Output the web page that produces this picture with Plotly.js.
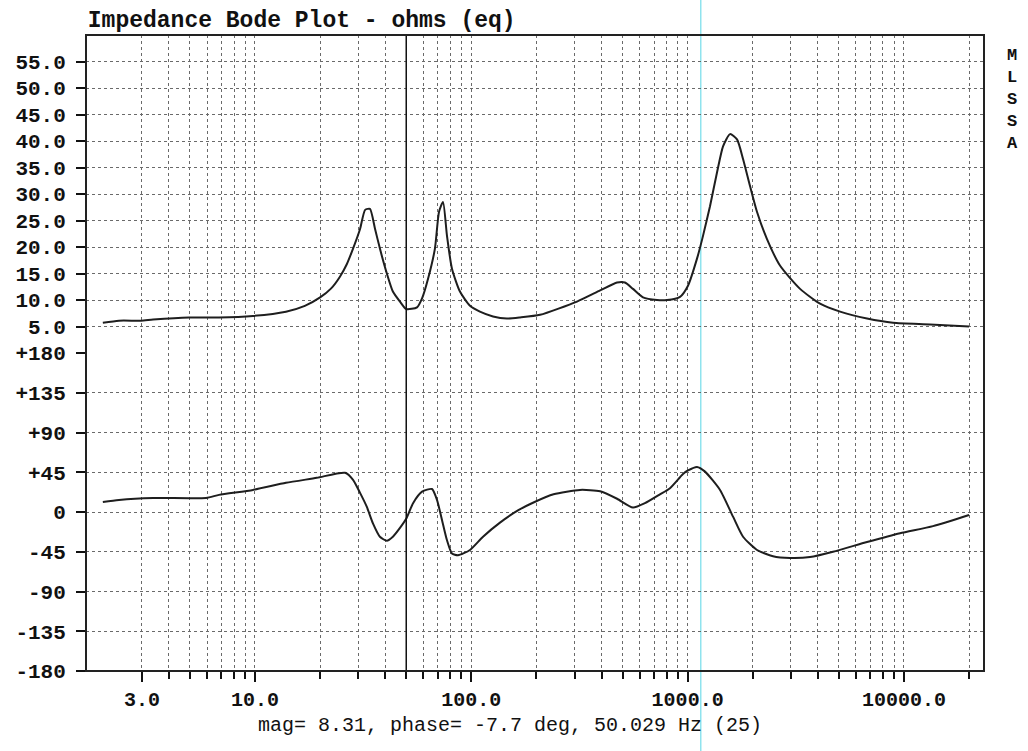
<!DOCTYPE html>
<html>
<head>
<meta charset="utf-8">
<script src="https://cdn.plot.ly/plotly-3.0.1.min.js"></script>
<style>html,body{margin:0;padding:0;background:#fff;}#chart{width:1028px;height:751px;}</style>
</head>
<body>
<div id="chart"></div>
<script>
// ---- Data ----
const magFreq = [1.98, 2.35, 2.97, 3.38, 4.95, 6.82, 9.79, 13.9, 17.0, 20.0, 22.5, 24.7, 26.6, 28.4, 30.6, 32.3, 34.0, 35.9, 37.8, 40.7, 43.4, 46.8, 50.0,
  56.1, 59.2, 63.1, 67.9, 70.9, 74.0, 77.2, 81.4, 88.6, 98.6, 109.6, 126, 146, 168, 208, 308, 394, 472, 513, 559, 622, 722, 803, 922,
  1004, 1105, 1178, 1269, 1368, 1458, 1571, 1692, 1804, 1943, 2094, 2328, 2673, 3310, 4094, 5068, 6750, 8908, 13210, 20000];
const magOhms = [5.7, 6.1, 6.1, 6.3, 6.7, 6.7, 7.0, 7.8, 8.9, 10.5, 12.2, 14.4, 16.8, 19.7, 23.4, 27.0, 27.2, 23.4, 19.7, 15.0, 11.6, 9.7, 8.31,
  8.6, 10.3, 14.0, 19.7, 26.6, 28.5, 22.1, 15.9, 11.6, 8.9, 7.8, 6.9, 6.5, 6.7, 7.2, 9.7, 11.8, 13.3, 13.3, 12.1, 10.5, 10.0, 10.0, 10.6,
  12.7, 17.8, 22.1, 27.7, 34.1, 39.0, 41.3, 40.3, 36.6, 31.5, 26.6, 21.5, 16.5, 12.1, 9.3, 7.8, 6.5, 5.7, 5.4, 5.0];

const phaseFreq = [1.98, 2.35, 3.38, 5.94, 6.82, 9.79, 13.9, 19.3, 26.1, 28.4, 30.6, 32.9, 35.1, 37.8, 40.7, 43.4, 46.8, 50.0,
  53.8, 59.2, 65.8, 69.4, 73.2, 77.2, 81.4, 86.8, 98.6, 113.3, 135.7, 165, 195, 240, 318, 394, 472, 559, 635, 745, 829, 952,
  1004, 1105, 1200, 1412, 1622, 1804, 2094, 2482, 2974, 3681, 4700, 6750, 9594, 13630, 20000];
const phaseDeg = [11.4, 13.7, 15.9, 15.9, 19.4, 25, 33, 38.7, 44.4, 36.4, 21.6, 5.7, -12.9, -28, -32.6, -28, -18, -7.7,
  10, 23, 26, 13.7, -9, -32, -47, -49, -43, -28, -12, 2, 11, 20, 25, 23.5, 15, 5, 10, 20, 27, 43,
  47, 51, 46, 25, -5.3, -28, -43, -50, -52, -51, -45, -34, -24, -16, -3.4];

const xTickVals = [3, 10, 100, 1000, 10000];
const xTickText = ['3.0', '10.0', '100.0', '1000.0', '10000.0'];
const xMinorVals = [4, 5, 6, 7, 8, 9, 20, 30, 40, 50, 60, 70, 80, 90, 200, 300, 400, 500, 600, 700, 800, 900,
  2000, 3000, 4000, 5000, 6000, 7000, 8000, 9000, 20000];
const magTickVals = [5, 10, 15, 20, 25, 30, 35, 40, 45, 50, 55];
const magTickText = ['5.0', '10.0', '15.0', '20.0', '25.0', '30.0', '35.0', '40.0', '45.0', '50.0', '55.0'];
const phaseTickVals = [-180, -135, -90, -45, 0, 45, 90, 135, 180];
const phaseTickText = ['-180', '-135', '-90', '-45', '0', '+45', '+90', '+135', '+180'];

const titleText = 'Impedance Bode Plot - ohms (eq)';
const footerText = 'mag= 8.31, phase= -7.7 deg, 50.029 Hz (25)';
const sideText = 'M<br>L<br>S<br>S<br>A';
const cursorFreq = 50.029;
const cyanFreq = 1150;

// ---- Chart ----
const curveLine = {color: '#1e1e1e', width: 2, shape: 'spline', smoothing: 0.6};
const traces = [
  {x: magFreq, y: magOhms, type: 'scatter', mode: 'lines', line: curveLine, xaxis: 'x', yaxis: 'y', hoverinfo: 'skip'},
  {x: phaseFreq, y: phaseDeg, type: 'scatter', mode: 'lines', line: curveLine, xaxis: 'x', yaxis: 'y2', hoverinfo: 'skip'}
];

const gridCol = '#6a6a6a';
const monoFam = 'Liberation Mono, DejaVu Sans Mono, monospace';
const yTickFont = {family: monoFam, size: 21, color: '#111', weight: 'bold'};
const xTickFont = {family: monoFam, size: 20, color: '#111', weight: 'bold'};

const layout = {
  width: 1028, height: 751,
  paper_bgcolor: '#ffffff', plot_bgcolor: '#ffffff',
  margin: {l: 86, r: 44, t: 35, b: 80},
  showlegend: false,
  title: {text: titleText, x: 0.002, xref: 'paper', xanchor: 'left', y: 0.975, yref: 'container', yanchor: 'middle',
          font: {family: monoFam, size: 23, color: '#111', weight: 'bold'}},
  xaxis: {
    type: 'log', range: [Math.log10(1.655), Math.log10(23450)], anchor: 'y2',
    tickmode: 'array', tickvals: xTickVals, ticktext: xTickText,
    ticks: 'outside', ticklen: 10, tickwidth: 2, tickcolor: '#111',
    showgrid: true, gridcolor: gridCol, griddash: 'dot', gridwidth: 1,
    minor: {tickmode: 'array', tickvals: xMinorVals, ticks: 'outside', ticklen: 7, tickwidth: 2, tickcolor: '#111',
            showgrid: true, gridcolor: gridCol, griddash: 'dot', gridwidth: 1},
    showline: false, zeroline: false, tickfont: xTickFont
  },
  yaxis: {
    domain: [0.5, 1], range: [0, 60], anchor: 'x',
    tickmode: 'array', tickvals: magTickVals, ticktext: magTickText,
    ticks: 'outside', ticklen: 9, tickwidth: 2, tickcolor: '#111', ticklabelstandoff: 6,
    showgrid: true, gridcolor: gridCol, griddash: 'dot', gridwidth: 1,
    showline: false, zeroline: false, tickfont: yTickFont
  },
  yaxis2: {
    domain: [0, 0.5], range: [-180, 180], anchor: 'x',
    tickmode: 'array', tickvals: phaseTickVals, ticktext: phaseTickText,
    ticks: 'outside', ticklen: 9, tickwidth: 2, tickcolor: '#111', ticklabelstandoff: 6,
    showgrid: true, gridcolor: gridCol, griddash: 'dot', gridwidth: 1,
    showline: false, zeroline: false, tickfont: yTickFont
  },
  shapes: [
    {type: 'line', xref: 'x', yref: 'paper', x0: cyanFreq, x1: cyanFreq, y0: -0.13, y1: 1.06,
     line: {color: '#8fe3ee', width: 1.5}, layer: 'below'},
    {type: 'line', xref: 'x', yref: 'paper', x0: cursorFreq, x1: cursorFreq, y0: 0, y1: 1,
     line: {color: '#111', width: 1.5}},
    {type: 'rect', xref: 'paper', yref: 'paper', x0: 0, x1: 1, y0: 0, y1: 1,
     line: {color: '#222', width: 2}}
  ],
  annotations: [
    {text: footerText, xref: 'paper', yref: 'paper', x: 0.472, y: -0.086, xanchor: 'center', yanchor: 'middle',
     showarrow: false, font: {family: monoFam, size: 20, color: '#111'}},
    {text: sideText, xref: 'paper', yref: 'paper', x: 1.032, y: 0.898, xanchor: 'center', yanchor: 'middle',
     showarrow: false, font: {family: monoFam, size: 17, color: '#111', weight: 'bold'}}
  ]
};

Plotly.newPlot('chart', traces, layout, {displayModeBar: false, staticPlot: true});
</script>
</body>
</html>
